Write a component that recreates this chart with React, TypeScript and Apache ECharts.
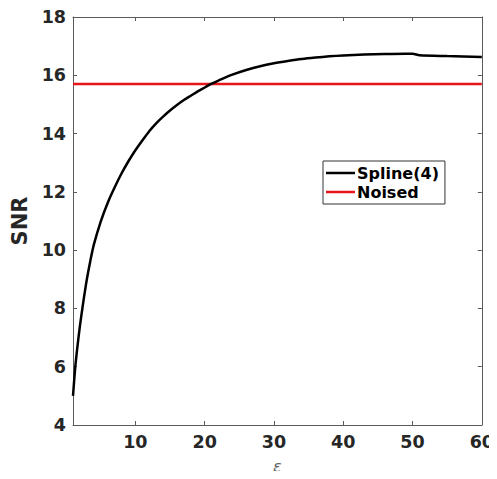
import React, { useEffect, useRef } from "react";
import * as echarts from "echarts";

// epsilon sample positions and the SNR reached by the 4th-order spline
const epsValues = [1, 1.33, 1.67, 2, 2.5, 3, 3.5, 4, 5, 6, 7, 8, 9, 10, 11, 12, 13, 14, 15, 16, 17, 18, 19, 20, 21, 22, 24, 26, 28, 30, 32, 34, 36, 38, 40, 43, 46, 49, 50, 51, 55, 60];
const snrSpline = [5.0, 6.0, 6.75, 7.4, 8.24, 9.0, 9.63, 10.18, 10.98, 11.62, 12.15, 12.63, 13.05, 13.43, 13.76, 14.08, 14.35, 14.58, 14.79, 14.98, 15.15, 15.3, 15.45, 15.58, 15.71, 15.82, 16.02, 16.18, 16.31, 16.41, 16.49, 16.56, 16.61, 16.65, 16.68, 16.71, 16.73, 16.74, 16.74, 16.69, 16.66, 16.63];
// SNR of the noisy input, flat across epsilon
const noisedRange = [1, 60];
const snrNoised = 15.7;

const xTicks = [10, 20, 30, 40, 50, 60];

const FONT = "DejaVu Sans";
const AXIS_COLOR = "#262626";
const FRAME_COLOR = "#5a5a5a";

export default function App() {
  const ref = useRef<HTMLDivElement>(null);

  useEffect(() => {
    if (!ref.current) return;
    const chart = echarts.init(ref.current, null, { renderer: "svg" });

    const splineData = epsValues.map((x, i) => [x, snrSpline[i]]);
    const noisedData = noisedRange.map((x) => [x, snrNoised]);

    const tickStyle = { show: true, inside: true, length: 4, lineStyle: { color: FRAME_COLOR, width: 1 } };
    const lineStyle = { show: true, lineStyle: { color: FRAME_COLOR, width: 1 } };

    chart.setOption({
      animation: false,
      backgroundColor: "#ffffff",
      grid: { left: 73, right: 15, top: 17, bottom: 54, containLabel: false },
      legend: {
        orient: "vertical",
        left: 323,
        top: 161,
        padding: [4, 6, 4, 3],
        itemGap: 3,
        itemWidth: 29,
        itemHeight: 2.5,
        icon: "rect",
        borderColor: "#333333",
        borderWidth: 1,
        backgroundColor: "#ffffff",
        textStyle: { fontFamily: FONT, fontWeight: "bold", fontSize: 16, color: "#000000", padding: [0, 0, 0, -3] },
        data: ["Spline(4)", "Noised"],
      },
      xAxis: [
        {
          type: "value",
          min: 1,
          max: 60,
          position: "bottom",
          name: "ε",
          nameLocation: "middle",
          nameGap: 33,
          nameTextStyle: { fontFamily: FONT, fontStyle: "italic", fontSize: 16, color: "#666666" },
          axisLine: lineStyle,
          axisTick: { ...tickStyle, customValues: xTicks },
          axisLabel: {
            customValues: xTicks,
            margin: 8,
            fontFamily: FONT,
            fontWeight: "bold",
            fontSize: 17.5,
            color: AXIS_COLOR,
            showMinLabel: true,
            showMaxLabel: true,
          },
          splitLine: { show: false },
        },
        {
          type: "value",
          min: 1,
          max: 60,
          position: "top",
          axisLine: lineStyle,
          axisTick: { ...tickStyle, customValues: xTicks },
          axisLabel: { show: false },
          splitLine: { show: false },
        },
      ],
      yAxis: [
        {
          type: "value",
          min: 4,
          max: 18,
          interval: 2,
          position: "left",
          name: "SNR",
          nameLocation: "middle",
          nameGap: 40,
          nameTextStyle: { fontFamily: FONT, fontWeight: "bold", fontSize: 21, color: AXIS_COLOR },
          axisLine: lineStyle,
          axisTick: tickStyle,
          axisLabel: { margin: 7, fontFamily: FONT, fontWeight: "bold", fontSize: 17.5, color: AXIS_COLOR },
          splitLine: { show: false },
        },
        {
          type: "value",
          min: 4,
          max: 18,
          interval: 2,
          position: "right",
          axisLine: lineStyle,
          axisTick: tickStyle,
          axisLabel: { show: false },
          splitLine: { show: false },
        },
      ],
      series: [
        {
          name: "Spline(4)",
          type: "line",
          data: splineData,
          smooth: 0.25,
          showSymbol: false,
          symbol: "none",
          color: "#000000",
          lineStyle: { color: "#000000", width: 2.5 },
          z: 3,
        },
        {
          name: "Noised",
          type: "line",
          data: noisedData,
          showSymbol: false,
          symbol: "none",
          color: "#e8161b",
          lineStyle: { color: "#e8161b", width: 2.5 },
          z: 2,
        },
      ],
    });

    return () => chart.dispose();
  }, []);

  return <div ref={ref} style={{ width: 497, height: 479, margin: -8 }} />;
}
